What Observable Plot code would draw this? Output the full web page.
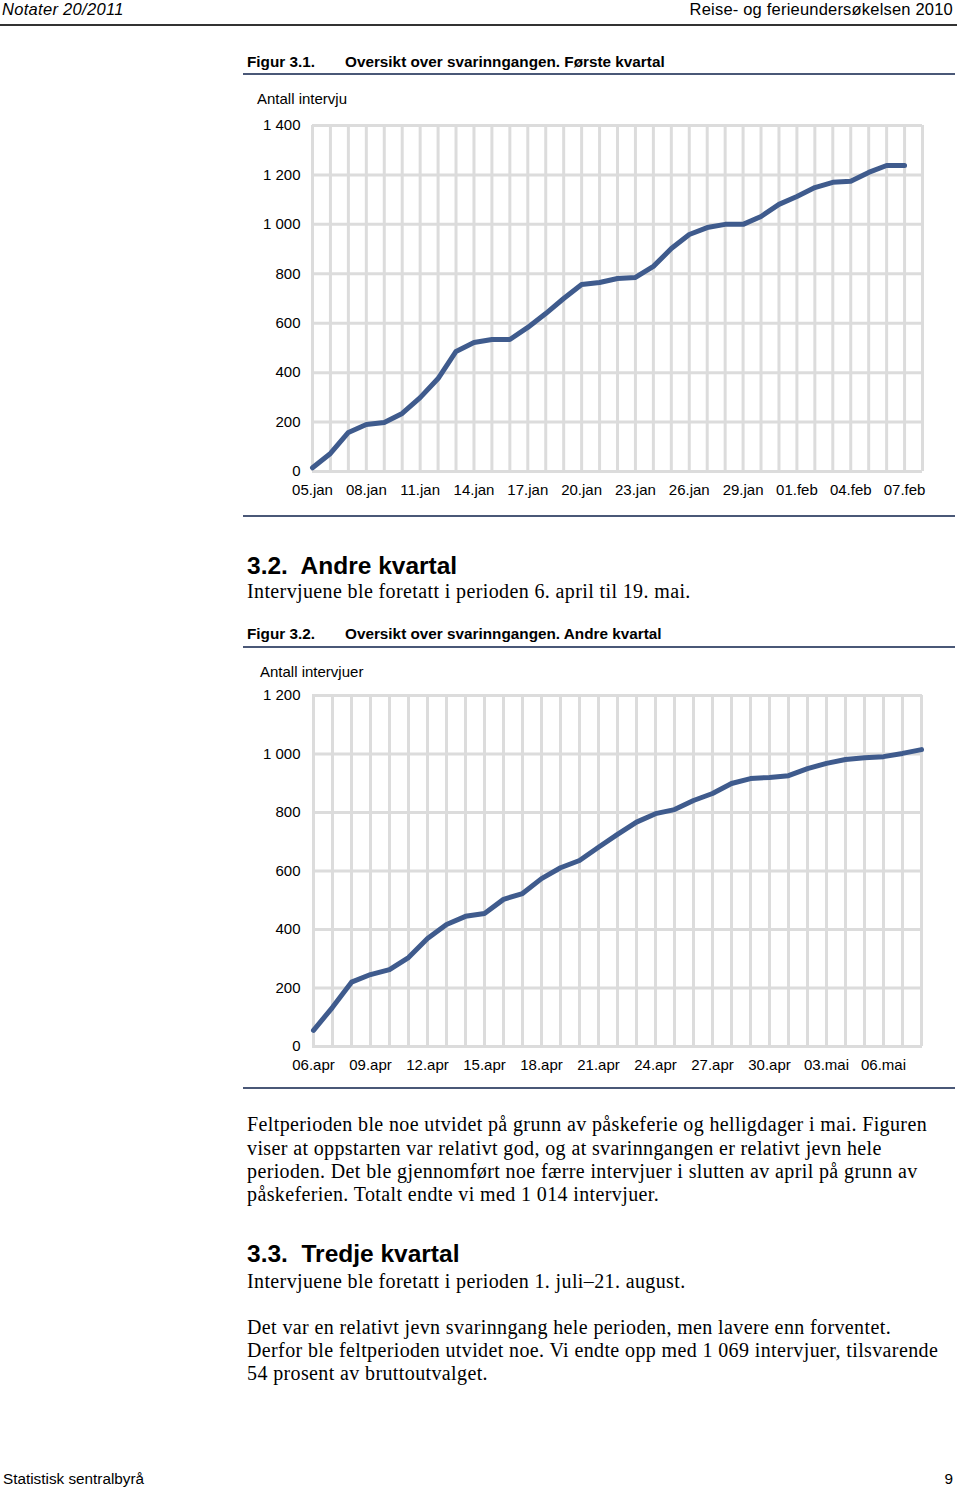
<!DOCTYPE html>
<html><head><meta charset="utf-8">
<script src="https://cdn.jsdelivr.net/npm/d3@7"></script>
<script src="https://cdn.jsdelivr.net/npm/@observablehq/plot@0.6"></script>
<style>
body{margin:0;background:#fff;}
#page{position:relative;width:960px;height:1489px;overflow:hidden;font-family:"Liberation Sans",Arial,sans-serif;color:#000;background:#fff;}
.t{position:absolute;white-space:nowrap;line-height:1;}
.serif{font-family:"Liberation Serif","Times New Roman",serif;font-size:20px;letter-spacing:0.38px;}
.h2{font-weight:bold;font-size:24.5px;}
.fig{font-weight:bold;font-size:15.3px;}
.rule{position:absolute;height:2px;background:#4a5877;}
.chart{position:absolute;}
</style>
</head><body>
<div id="page">
  <div class="t" style="left:2px;top:1px;font-size:16.5px;font-style:italic;letter-spacing:0.3px;">Notater 20/2011</div>
  <div class="t" style="right:7px;top:1px;font-size:16.5px;letter-spacing:0.2px;">Reise- og ferieundersøkelsen 2010</div>
  <div class="rule" style="left:0;top:24px;width:957px;background:#333;"></div>

  <div class="t fig" style="left:247px;top:54px;">Figur 3.1.</div>
  <div class="t fig" style="left:345px;top:54px;">Oversikt over svarinngangen. Første kvartal</div>
  <div class="rule" style="left:243px;top:73px;width:712px;"></div>
  <div class="t" style="left:257px;top:91px;font-size:15px;">Antall intervju</div>
  <div class="chart" id="c1" style="left:240px;top:110px;"></div>
  <div class="rule" style="left:243px;top:515px;width:712px;"></div>

  <div class="t h2" style="left:247px;top:554px;">3.2.&nbsp; Andre kvartal</div>
  <div class="t serif" style="left:247px;top:581px;">Intervjuene ble foretatt i perioden 6. april til 19. mai.</div>

  <div class="t fig" style="left:247px;top:626px;">Figur 3.2.</div>
  <div class="t fig" style="left:345px;top:626px;">Oversikt over svarinngangen. Andre kvartal</div>
  <div class="rule" style="left:243px;top:646px;width:712px;"></div>
  <div class="t" style="left:260px;top:664px;font-size:15px;">Antall intervjuer</div>
  <div class="chart" id="c2" style="left:240px;top:680px;"></div>
  <div class="rule" style="left:243px;top:1087px;width:712px;"></div>

  <div class="t serif" style="left:247px;top:1114px;">Feltperioden ble noe utvidet på grunn av påskeferie og helligdager i mai. Figuren</div>
  <div class="t serif" style="left:247px;top:1138px;">viser at oppstarten var relativt god, og at svarinngangen er relativt jevn hele</div>
  <div class="t serif" style="left:247px;top:1161px;">perioden. Det ble gjennomført noe færre intervjuer i slutten av april på grunn av</div>
  <div class="t serif" style="left:247px;top:1184px;">påskeferien. Totalt endte vi med 1 014 intervjuer.</div>

  <div class="t h2" style="left:247px;top:1242px;">3.3.&nbsp; Tredje kvartal</div>
  <div class="t serif" style="left:247px;top:1271px;">Intervjuene ble foretatt i perioden 1. juli–21. august.</div>

  <div class="t serif" style="left:247px;top:1317px;">Det var en relativt jevn svarinngang hele perioden, men lavere enn forventet.</div>
  <div class="t serif" style="left:247px;top:1340px;">Derfor ble feltperioden utvidet noe. Vi endte opp med 1 069 intervjuer, tilsvarende</div>
  <div class="t serif" style="left:247px;top:1363px;">54 prosent av bruttoutvalget.</div>

  <div class="t" style="left:3px;top:1471px;font-size:15.3px;">Statistisk sentralbyrå</div>
  <div class="t" style="right:7px;top:1471px;font-size:15.3px;">9</div>
</div>
<script>
// Figur 3.1 — categories (the last one, 08.feb, has no value)
const dates1 = ["05.jan","06.jan","07.jan","08.jan","09.jan","10.jan","11.jan","12.jan","13.jan","14.jan",
  "15.jan","16.jan","17.jan","18.jan","19.jan","20.jan","21.jan","22.jan","23.jan","24.jan",
  "25.jan","26.jan","27.jan","28.jan","29.jan","30.jan","31.jan","01.feb","02.feb","03.feb",
  "04.feb","05.feb","06.feb","07.feb","08.feb"];
const values1 = [15,73,158,190,198,235,299,376,486,522,
  534,534,583,639,700,757,765,781,785,830,
  902,959,987,1000,1000,1032,1081,1113,1149,1170,
  1174,1210,1238,1238];
const xTicks1 = ["05.jan","08.jan","11.jan","14.jan","17.jan","20.jan","23.jan","26.jan","29.jan","01.feb","04.feb","07.feb"];
const yTicks1 = [0,200,400,600,800,1000,1200,1400];

// Figur 3.2
const dates2 = ["06.apr","07.apr","08.apr","09.apr","10.apr","11.apr","12.apr","13.apr","14.apr","15.apr",
  "16.apr","17.apr","18.apr","19.apr","20.apr","21.apr","22.apr","23.apr","24.apr","25.apr",
  "26.apr","27.apr","28.apr","29.apr","30.apr","01.mai","02.mai","03.mai","04.mai","05.mai",
  "06.mai","07.mai","08.mai"];
const values2 = [55,134,220,246,263,304,369,417,445,455,
  503,523,574,611,636,681,725,767,796,810,
  841,865,899,916,920,926,950,968,981,987,
  991,1002,1015];
const xTicks2 = ["06.apr","09.apr","12.apr","15.apr","18.apr","21.apr","24.apr","27.apr","30.apr","03.mai","06.mai"];
const yTicks2 = [0,200,400,600,800,1000,1200];

const locale = d3.formatLocale({decimal:",", thousands:" ", grouping:[3], currency:["",""]});
const fmt = locale.format(",");

function chart(dates, values, xTicks, yTicks, ymax, height) {
  const data = values.map((v, i) => ({d: dates[i], v}));
  return Plot.plot({
    width: 700, height,
    marginLeft: 72, marginRight: 18, marginTop: 15, marginBottom: 30,
    style: {fontFamily: "'Liberation Sans', Arial, sans-serif", fontSize: "15px", color: "#000", background: "transparent", overflow: "visible"},
    x: {type: "point", domain: dates, padding: 0, label: null},
    y: {domain: [0, ymax], label: null},
    marks: [
      Plot.gridX(dates, {stroke: "#dcdcdc", strokeOpacity: 1, strokeWidth: 3}),
      Plot.gridY(yTicks, {stroke: "#dcdcdc", strokeOpacity: 1, strokeWidth: 3}),
      Plot.axisX(xTicks, {tickSize: 0, tickPadding: 13, fontSize: 15, fill: "#000", label: null}),
      Plot.axisY(yTicks, {tickSize: 0, tickPadding: 12, fontSize: 15, fill: "#000", tickFormat: fmt, label: null}),
      Plot.lineY(data, {x: "d", y: "v", stroke: "#3f5b8d", strokeWidth: 5, strokeLinejoin: "round"})
    ]
  });
}

document.getElementById("c1").appendChild(chart(dates1, values1, xTicks1, yTicks1, 1400, 391));
document.getElementById("c2").appendChild(chart(dates2, values2, xTicks2, yTicks2, 1200, 396));
</script>
</body></html>
